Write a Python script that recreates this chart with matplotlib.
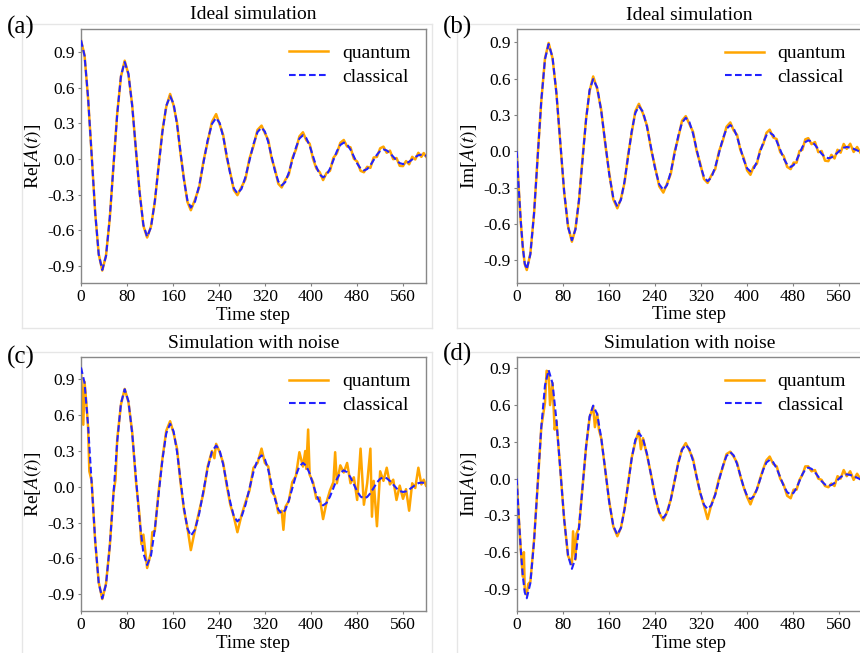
import matplotlib as mpl
mpl.use('Agg')
import matplotlib.pyplot as plt
from matplotlib.lines import Line2D

plt.rcParams['font.family'] = ['Liberation Serif', 'DejaVu Serif']
plt.rcParams['mathtext.fontset'] = 'stix'
plt.rcParams['axes.unicode_minus'] = False

# ---- data ------------------------------------------------------------
t_re = [0, 6.2, 12.3, 18.5, 24.7, 30.8,
        37, 43.5, 50, 56.5, 63, 69.5,
        76, 82.5, 89, 95.5, 102, 108.5,
        115, 121.7, 128.3, 135, 141.7, 148.3,
        155, 161, 167, 173, 179, 185,
        191, 198.3, 205.7, 213, 220.3, 227.7,
        235, 241.2, 247.3, 253.5, 259.7, 265.8,
        272, 279, 286, 293, 300, 307,
        314, 319.8, 325.7, 331.5, 337.3, 343.2,
        349, 355.2, 361.3, 367.5, 373.7, 379.8,
        386, 391.8, 397.7, 403.5, 409.3, 415.2,
        421, 427, 433, 439, 445, 451,
        457, 462.8, 468.7, 474.5, 480.3, 486.2,
        492, 497.7, 503.3, 509, 514.7, 520.3,
        526, 531.7, 537.3, 543, 548.7, 554.3,
        560, 565.3, 570.7, 576, 581.3, 586.7,
        592, 596, 600]

re_classical = [1.0, 0.870, 0.516, 0.033, -0.451, -0.805,
                -0.935, -0.818, -0.497, -0.059, 0.379, 0.700,
                0.817, 0.718, 0.449, 0.081, -0.287, -0.556,
                -0.655, -0.576, -0.359, -0.063, 0.232, 0.449,
                0.528, 0.465, 0.294, 0.059, -0.176, -0.347,
                -0.410, -0.359, -0.221, -0.032, 0.157, 0.295,
                0.346, 0.303, 0.187, 0.028, -0.131, -0.247,
                -0.290, -0.253, -0.152, -0.013, 0.126, 0.227,
                0.264, 0.231, 0.142, 0.021, -0.101, -0.190,
                -0.223, -0.195, -0.117, -0.012, 0.094, 0.172,
                0.200, 0.176, 0.111, 0.023, -0.066, -0.131,
                -0.155, -0.135, -0.082, -0.009, 0.065, 0.118,
                0.138, 0.122, 0.079, 0.021, -0.038, -0.081,
                -0.097, -0.085, -0.053, -0.009, 0.036, 0.068,
                0.080, 0.072, 0.049, 0.019, -0.012, -0.035,
                -0.043, -0.038, -0.023, -0.004, 0.016, 0.031,
                0.036, 0.033, 0.026]

re_quantum_ideal = [1.0, 0.872, 0.512, 0.038, -0.455, -0.801,
                    -0.940, -0.812, -0.503, -0.052, 0.385, 0.694,
                    0.828, 0.712, 0.456, 0.074, -0.281, -0.563,
                    -0.662, -0.569, -0.366, -0.055, 0.241, 0.440,
                    0.548, 0.452, 0.305, 0.047, -0.164, -0.360,
                    -0.432, -0.342, -0.236, -0.018, 0.145, 0.312,
                    0.378, 0.290, 0.201, 0.012, -0.118, -0.262,
                    -0.305, -0.238, -0.170, 0.004, 0.110, 0.245,
                    0.281, 0.218, 0.160, 0.005, -0.087, -0.209,
                    -0.240, -0.178, -0.133, 0.006, 0.078, 0.190,
                    0.225, 0.158, 0.128, 0.002, -0.080, -0.112,
                    -0.178, -0.118, -0.100, 0.010, 0.048, 0.136,
                    0.160, 0.105, 0.098, 0.002, -0.022, -0.100,
                    -0.112, -0.066, -0.075, 0.012, 0.018, 0.090,
                    0.104, 0.052, 0.070, -0.002, 0.008, -0.058,
                    -0.060, -0.018, -0.045, 0.018, -0.004, 0.052,
                    0.018, 0.050, 0.020]

re_quantum_noisy = [(0, 0.98), (4, 0.52), (6.2, 0.88), (10, 0.66), (12.3, 0.50),
                    (14.5, 0.13), (18.5, 0.05), (24.7, -0.46), (30.8, -0.80),
                    (37, -0.94), (43.5, -0.81), (50, -0.50), (56.5, -0.05),
                    (60, 0.06), (63, 0.40), (69.5, 0.69), (76, 0.82), (82.5, 0.71),
                    (89, 0.46), (95.5, 0.05), (102, -0.25), (105, -0.48),
                    (108.5, -0.40), (115, -0.68), (121.7, -0.55), (124, -0.38),
                    (128.3, -0.37), (135, -0.04), (141.7, 0.24), (148.3, 0.47),
                    (155, 0.55), (161, 0.45), (167, 0.32), (173, 0.04),
                    (179, -0.19), (185, -0.34), (191, -0.53), (198.3, -0.36),
                    (205.7, -0.20), (213, -0.05), (220.3, 0.17), (227.7, 0.30),
                    (232, 0.24), (235, 0.36), (241.2, 0.29), (247.3, 0.20),
                    (253.5, 0.01), (259.7, -0.15), (265.8, -0.25), (272, -0.38),
                    (279, -0.24), (286, -0.13), (293, -0.03), (300, 0.16),
                    (307, 0.20), (314, 0.32), (319.8, 0.20), (325.7, 0.17),
                    (331.5, -0.04), (337.3, -0.08), (343.2, -0.22), (349, -0.20),
                    (352, -0.36), (355.2, -0.17), (361.3, -0.12), (367.5, 0.04),
                    (373.7, 0.09), (379.8, 0.29), (386, 0.17), (390, 0.30),
                    (391.8, 0.15), (395, 0.48), (397.7, 0.10), (403.5, 0.04),
                    (409.3, -0.10), (415.2, -0.09), (421, -0.27), (427, -0.13),
                    (433, -0.03), (439, 0.04), (442, 0.29), (445, 0.03),
                    (451, 0.18), (457, 0.12), (462.8, 0.20), (468.7, 0.03),
                    (474.5, 0.08), (480.3, -0.11), (486.2, 0.32), (492, -0.15),
                    (497.7, 0.03), (503.3, 0.32), (506, -0.25), (509, 0.05),
                    (514.7, -0.33), (520.3, 0.13), (526, 0.05), (531.7, 0.16),
                    (537.3, 0.02), (543, 0.06), (548.7, -0.11), (554.3, 0.01),
                    (560, -0.10), (565.3, -0.02), (570.7, -0.20), (576, 0.03),
                    (581.3, -0.01), (586.7, 0.16), (592, 0.02), (596, 0.06),
                    (600, 0.01)]

t_im = [0, 3.5, 7, 10.5, 14,
        17.5, 23.8, 30.2, 36.5, 42.8, 49.2,
        55.5, 62.3, 69, 75.8, 82.5, 89.3,
        96, 102.2, 108.3, 114.5, 120.7, 126.8,
        133, 140, 147, 154, 161, 168,
        175, 181.3, 187.5, 193.8, 200, 206.3,
        212.5, 219.6, 226.7, 233.8, 240.8, 247.9,
        255, 261.5, 268, 274.5, 281, 287.5,
        294, 300.3, 306.7, 313, 319.3, 325.7,
        332, 338.6, 345.2, 351.8, 358.3, 364.9,
        371.5, 377.3, 383.2, 389, 394.8, 400.7,
        406.5, 412.1, 417.7, 423.3, 428.8, 434.4,
        440, 446.1, 452.2, 458.3, 464.3, 470.4,
        476.5, 481.6, 486.7, 491.8, 496.8, 501.9,
        507, 512.8, 518.7, 524.5, 530.3, 536.2,
        542, 547.3, 552.7, 558, 563.3, 568.7,
        574, 580, 586, 592, 600]

im_classical = [0.0, -0.302, -0.574, -0.790, -0.928,
                -0.976, -0.851, -0.511, -0.045, 0.421, 0.761,
                0.886, 0.777, 0.481, 0.075, -0.331, -0.627,
                -0.736, -0.647, -0.403, -0.070, 0.263, 0.507,
                0.596, 0.526, 0.333, 0.070, -0.194, -0.386,
                -0.457, -0.402, -0.250, -0.043, 0.165, 0.316,
                0.372, 0.326, 0.199, 0.026, -0.147, -0.274,
                -0.320, -0.280, -0.171, -0.022, 0.127, 0.236,
                0.276, 0.241, 0.145, 0.014, -0.117, -0.213,
                -0.248, -0.217, -0.132, -0.016, 0.100, 0.185,
                0.216, 0.190, 0.120, 0.025, -0.071, -0.141,
                -0.167, -0.146, -0.087, -0.007, 0.073, 0.132,
                0.153, 0.134, 0.082, 0.012, -0.059, -0.111,
                -0.130, -0.115, -0.075, -0.020, 0.035, 0.075,
                0.090, 0.080, 0.053, 0.016, -0.021, -0.048,
                -0.058, -0.052, -0.035, -0.012, 0.012, 0.029,
                0.035, 0.030, 0.020, 0.007, -0.010]

im_quantum_ideal = [0.0, -0.298, -0.580, -0.786, -0.934,
                    -0.982, -0.845, -0.516, -0.040, 0.415, 0.768,
                    0.895, 0.770, 0.488, 0.068, -0.337, -0.620,
                    -0.748, -0.640, -0.410, -0.062, 0.270, 0.498,
                    0.618, 0.515, 0.342, 0.060, -0.184, -0.398,
                    -0.472, -0.392, -0.262, -0.030, 0.152, 0.330,
                    0.392, 0.312, 0.210, 0.014, -0.135, -0.290,
                    -0.342, -0.268, -0.186, -0.008, 0.112, 0.252,
                    0.290, 0.226, 0.160, 0.000, -0.104, -0.230,
                    -0.262, -0.200, -0.148, -0.002, 0.085, 0.202,
                    0.238, 0.172, 0.136, 0.010, -0.056, -0.158,
                    -0.195, -0.128, -0.104, 0.010, 0.058, 0.152,
                    0.178, 0.114, 0.100, -0.008, -0.040, -0.130,
                    -0.148, -0.094, -0.095, 0.002, 0.012, 0.098,
                    0.108, 0.058, 0.076, -0.008, 0.002, -0.078,
                    -0.082, -0.030, -0.060, 0.012, -0.012, 0.060,
                    0.020, 0.062, -0.006, 0.035, -0.030]

im_quantum_noisy = [(0, 0.0), (3.5, -0.31), (7, -0.57), (10.5, -0.80), (12.5, -0.60),
                    (14, -0.90), (17.5, -0.95), (20, -0.86), (23.8, -0.84),
                    (30.2, -0.50), (36.5, -0.05), (42.8, 0.42), (49.2, 0.62),
                    (52, 0.88), (55.5, 0.87), (58, 0.60), (62.3, 0.78), (66, 0.40),
                    (69, 0.47), (75.8, 0.08), (82.5, -0.33), (89.3, -0.63),
                    (96, -0.70), (98, -0.43), (102.2, -0.66), (104, -0.45),
                    (108.3, -0.40), (114.5, -0.07), (120.7, 0.26), (126.8, 0.50),
                    (133, 0.59), (136, 0.42), (140, 0.53), (143, 0.40), (147, 0.33),
                    (154, 0.07), (161, -0.19), (168, -0.39), (175, -0.47),
                    (181.3, -0.40), (187.5, -0.25), (193.8, -0.04), (200, 0.17),
                    (206.3, 0.30), (212.5, 0.39), (216, 0.24), (219.6, 0.33),
                    (226.7, 0.19), (233.8, 0.03), (240.8, -0.15), (247.9, -0.28),
                    (255, -0.34), (261.5, -0.27), (268, -0.17), (274.5, -0.02),
                    (281, 0.13), (287.5, 0.24), (294, 0.29), (300.3, 0.23),
                    (306.7, 0.16), (313, 0.01), (319.3, -0.12), (325.7, -0.22),
                    (332, -0.33), (338.6, -0.21), (345.2, -0.13), (351.8, 0.00),
                    (358.3, 0.09), (364.9, 0.20), (371.5, 0.22), (377.3, 0.18),
                    (383.2, 0.13), (389, 0.02), (394.8, -0.07), (400.7, -0.15),
                    (406.5, -0.21), (412.1, -0.14), (417.7, -0.09), (423.3, 0.00),
                    (428.8, 0.08), (434.4, 0.15), (440, 0.18), (446.1, 0.12),
                    (452.2, 0.10), (458.3, 0.00), (464.3, -0.05), (470.4, -0.14),
                    (476.5, -0.16), (481.6, -0.09), (486.7, -0.09), (491.8, -0.01),
                    (496.8, 0.03), (501.9, 0.10), (507, 0.10), (512.8, 0.06),
                    (518.7, 0.07), (524.5, 0.00), (530.3, -0.01), (536.2, -0.06),
                    (542, -0.07), (547.3, -0.04), (552.7, -0.06), (558, 0.02),
                    (563.3, 0.00), (568.7, 0.07), (574, 0.02), (580, 0.06),
                    (586, -0.01), (592, 0.04), (600, -0.02)]

x_ticks = [0, 80, 160, 240, 320, 400, 480, 560]
y_ticks = [-0.9, -0.6, -0.3, 0.0, 0.3, 0.6, 0.9]
titles = ['Ideal simulation', 'Ideal simulation',
          'Simulation with noise', 'Simulation with noise']
ylabels = [r'Re[$A(t)$]', r'Im[$A(t)$]', r'Re[$A(t)$]', r'Im[$A(t)$]']
letters = ['(a)', '(b)', '(c)', '(d)']

# ---- layout (pixels of the 860x653 reference) ------------------------
W, H = 860.0, 653.0
fig = plt.figure(figsize=(8.6, 6.53), dpi=100)


def px_axes(left, top, width, height):
    return fig.add_axes([left / W, 1 - (top + height) / H, width / W, height / H])


# faint frames of the four sub-pictures
frame_segs = [((22, 24), (432, 24)), ((22, 24), (22, 328)), ((432, 24), (432, 328)),
              ((22, 328), (432, 328)), ((457, 24), (860, 24)), ((457, 24), (457, 328)),
              ((457, 328), (860, 328)), ((22, 352), (432, 352)), ((22, 352), (22, 653)),
              ((432, 352), (432, 653)), ((457, 352), (860, 352)), ((457, 352), (457, 653))]
for (x0, y0), (x1, y1) in frame_segs:
    fig.add_artist(Line2D([x0 / W, x1 / W], [1 - y0 / H, 1 - y1 / H],
                          transform=fig.transFigure, color='#e6e6e6', lw=1.0))

boxes = [(81, 29, 345, 254), (516.7, 29.3, 345, 253.4),
         (81, 357.3, 345, 253.7), (516.7, 357.3, 345, 253.7)]
ylims = [(-1.045, 1.095), (-1.087, 1.008), (-1.04, 1.085), (-1.08, 0.99)]
letter_pos = [(7, 27), (443, 27), (7, 357), (443, 354)]

series = [
    (t_re, re_quantum_ideal, t_re, re_classical),
    (t_im, im_quantum_ideal, t_im, im_classical),
    ([p[0] for p in re_quantum_noisy], [p[1] for p in re_quantum_noisy], t_re, re_classical),
    ([p[0] for p in im_quantum_noisy], [p[1] for p in im_quantum_noisy], t_im, im_classical),
]

for i in range(4):
    ax = px_axes(*boxes[i])
    tq, q, tc, c = series[i]
    ax.plot(tq, q, color='orange', lw=1.8, label='quantum', zorder=2)
    ax.plot(tc, c, color='#2222ff', lw=1.5, ls=(0, (3.2, 1.6)), label='classical', zorder=3)
    ax.set_xlim(0, 600)
    ax.set_ylim(*ylims[i])
    ax.set_xticks(x_ticks)
    ax.set_yticks(y_ticks)
    ax.set_yticklabels(['%.1f' % v for v in y_ticks])
    ax.tick_params(labelsize=12.5, length=2.5, width=0.8, color='#808080', pad=2)
    for sp in ax.spines.values():
        sp.set_color('#888888')
        sp.set_linewidth(1.0)
    ax.set_xlabel('Time step', fontsize=13.5, labelpad=1)
    ax.set_ylabel(ylabels[i], fontsize=14, labelpad=3)
    ax.set_title(titles[i], fontsize=14, pad=7)
    ax.legend(loc='upper right', frameon=False, fontsize=14, handlelength=2.0,
              handletextpad=0.7, labelspacing=0.3, borderaxespad=0.4)
    lx, ly = letter_pos[i]
    fig.text(lx / W, 1 - ly / H, letters[i], fontsize=18, ha='left', va='center')

fig.savefig('out.png', dpi=100)
